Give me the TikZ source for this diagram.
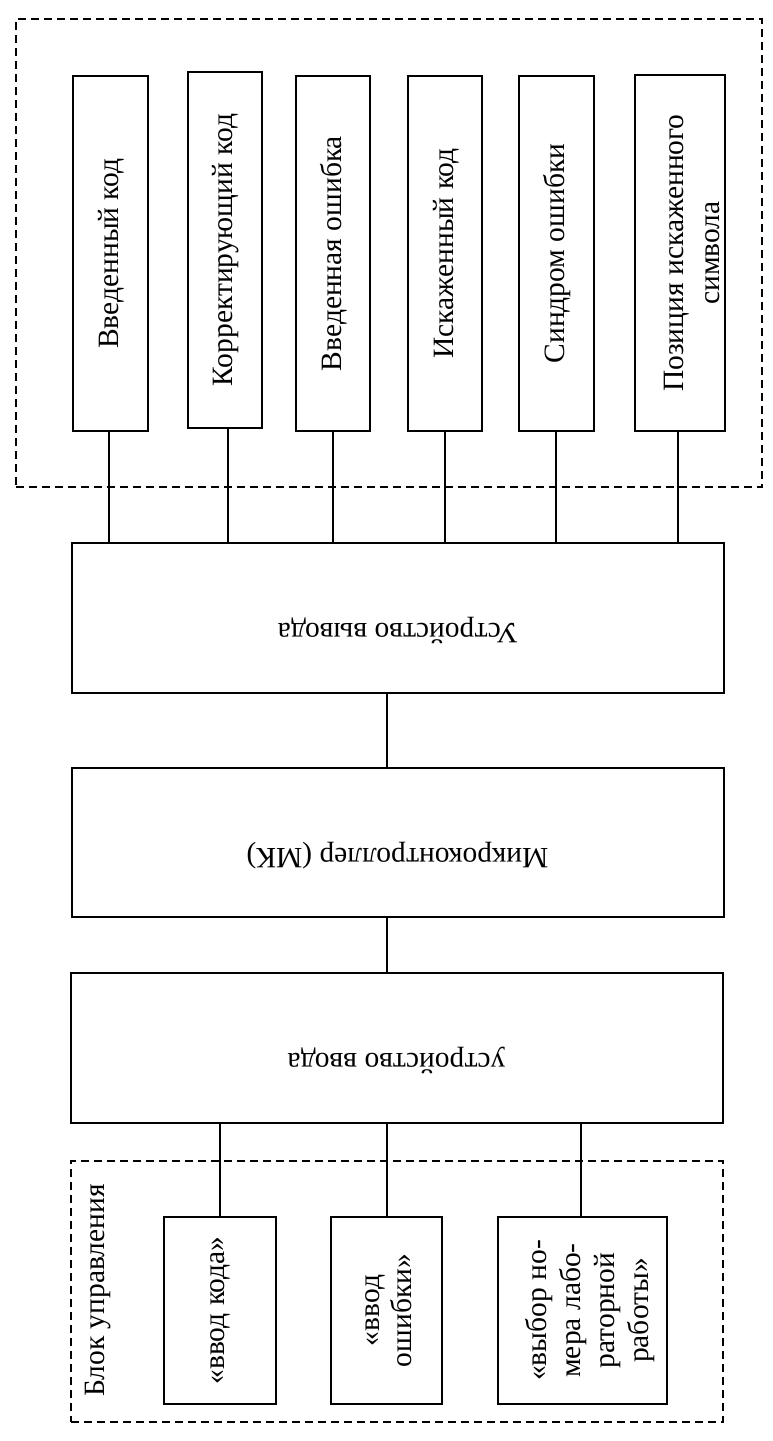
\documentclass[tikz,border=0pt]{standalone}
\usepackage{fontspec}
\setmainfont{Liberation Serif}
\begin{document}
\begin{tikzpicture}[x=1pt,y=-1pt,
  box/.style={draw, line width=2pt, inner sep=0pt},
  dbox/.style={draw, line width=2pt, dash pattern=on 8pt off 5pt, inner sep=0pt},
  wire/.style={line width=2pt},
  lbl/.style={font=\fontsize{29.5}{34}\selectfont, align=center, inner sep=0pt}]
\useasboundingbox (0,0) rectangle (772,1441);
\fill[white] (0,0) rectangle (772,1441);

% dashed groups
\node[dbox, minimum width=746pt, minimum height=468pt] (grtop) at (389,253) {};
\node[dbox, minimum width=652pt, minimum height=261pt] (grbot) at (397,1291.5) {};

% top boxes
\node[box, minimum width=75pt, minimum height=355pt] (b1) at (110.5,253.5) {};
\node[box, minimum width=74pt, minimum height=356pt] (b2) at (225,250) {};
\node[box, minimum width=74pt, minimum height=355pt] (b3) at (333,253.5) {};
\node[box, minimum width=74pt, minimum height=355pt] (b4) at (445,253.5) {};
\node[box, minimum width=75pt, minimum height=355pt] (b5) at (556.5,253.5) {};
\node[box, minimum width=90pt, minimum height=356pt] (b6) at (680,253) {};

% middle boxes
\node[box, minimum width=652pt, minimum height=150pt] (out) at (398,618) {};
\node[box, minimum width=652pt, minimum height=149pt] (mk) at (398,842.5) {};
\node[box, minimum width=652pt, minimum height=150pt] (inp) at (397,1048) {};

% bottom boxes
\node[box, minimum width=112pt, minimum height=187pt] (c1) at (220,1310.5) {};
\node[box, minimum width=111pt, minimum height=187pt] (c2) at (386.5,1310.5) {};
\node[box, minimum width=169pt, minimum height=187pt] (c3) at (582.5,1310.5) {};

% wires
\draw[wire] ([xshift=-1.5pt]b1.south) -- ([xshift=-1.5pt]b1.south |- out.north);
\draw[wire] ([xshift=3pt]b2.south) -- ([xshift=3pt]b2.south |- out.north);
\draw[wire] (b3.south) -- (b3.south |- out.north);
\draw[wire] (b4.south) -- (b4.south |- out.north);
\draw[wire] ([xshift=-0.5pt]b5.south) -- ([xshift=-0.5pt]b5.south |- out.north);
\draw[wire] ([xshift=-2pt]b6.south) -- ([xshift=-2pt]b6.south |- out.north);
\draw[wire] ([xshift=0.5pt]out.south -| c2.north) -- ([xshift=0.5pt]mk.north -| c2.north);
\draw[wire] ([xshift=0.5pt]mk.south -| c2.north) -- ([xshift=0.5pt]inp.north -| c2.north);
\draw[wire] (inp.south -| c1.north) -- (c1.north);
\draw[wire] ([xshift=0.5pt]inp.south -| c2.north) -- ([xshift=0.5pt]c2.north);
\draw[wire] ([xshift=-1.5pt]inp.south -| c3.north) -- ([xshift=-1.5pt]c3.north);

% labels top
\node[lbl, rotate=90] (t1) at ([xshift=1pt]b1.center) {Введенный код};
\node[lbl, rotate=90] (t2) at ([xshift=1pt]b2.center) {Корректирующий код};
\node[lbl, rotate=90] (t3) at ([xshift=1pt]b3.center) {Введенная ошибка};
\node[lbl, rotate=90] (t4) at ([xshift=1pt]b4.center) {Искаженный код};
\node[lbl, rotate=90] (t5) at ([xshift=1pt]b5.center) {Синдром ошибки};
\node[lbl, rotate=90, font=\fontsize{29.5}{36}\selectfont] (t6) at ([xshift=12pt]b6.center) {Позиция искаженного\\символа};

% labels middle (upside down)
\node[lbl, rotate=180, anchor=base] (tout) at (398,623) {Устройство вывода};
\node[lbl, rotate=180, anchor=base] (tmk) at (397.5,848) {Микроконтроллер (МК)};
\node[lbl, rotate=180, anchor=base] (tinp) at (396.5,1053) {устройство ввода};

% labels bottom
\node[lbl, rotate=90, anchor=base west] (tblk) at (104,1397) {Блок управления};
\node[lbl, rotate=90] (tc1) at (c1.center) {«ввод кода»};
\node[lbl, rotate=90, font=\fontsize{29.5}{32}\selectfont] (tc2) at ([xshift=2pt]c2.center) {«ввод\\ошибки»};
\node[lbl, rotate=90, font=\fontsize{29.5}{34}\selectfont] (tc3) at ([xshift=8pt]c3.center) {«выбор но-\\мера лабо-\\раторной\\работы»};
\end{tikzpicture}
\end{document}
